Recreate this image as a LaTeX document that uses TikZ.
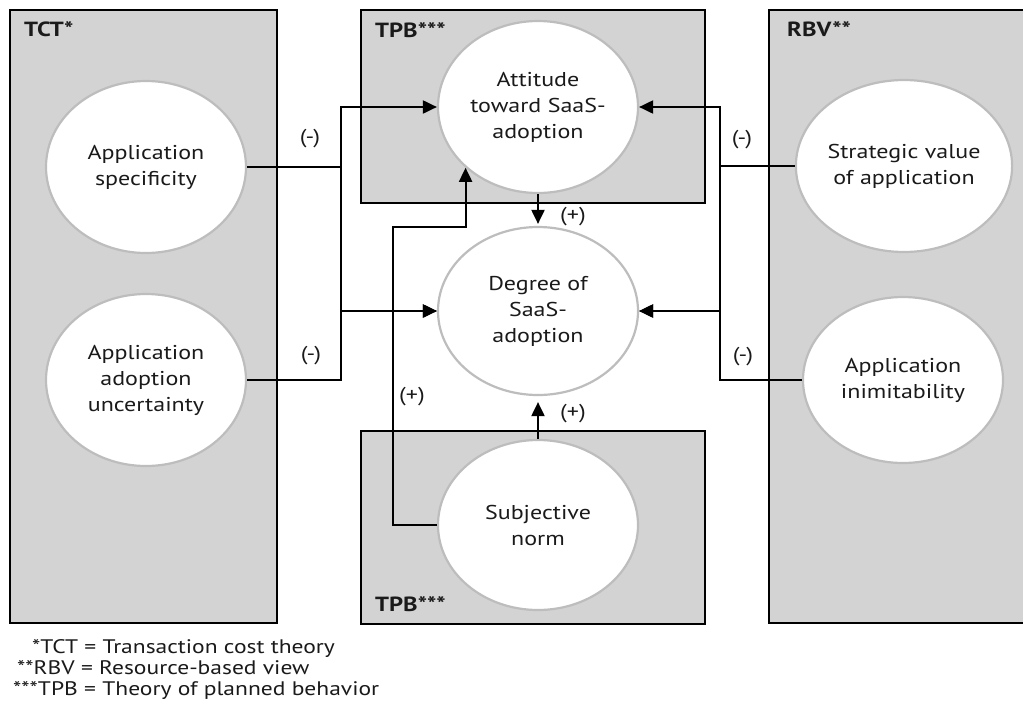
\documentclass[tikz,border=0pt]{standalone}
\usepackage{fontspec}
\setmainfont[FakeStretch=1.2]{PT Sans}
\usetikzlibrary{shapes.geometric,arrows.meta}

\definecolor{panelgray}{HTML}{D3D3D3}
\definecolor{rimgray}{HTML}{BDBDBD}
\definecolor{inkc}{HTML}{1A1A1A}

\tikzset{
  panel/.style={draw=black, line width=2.6pt, fill=panelgray},
  construct/.style={ellipse, draw=rimgray, line width=2.2pt, fill=white,
    minimum width=200pt, minimum height=172pt, inner sep=0pt,
    align=center, text=inkc, font=\fontsize{20}{26}\selectfont},
  paneltitle/.style={anchor=base west, inner sep=0pt, text=inkc,
    font=\fontsize{20.5}{24}\selectfont\bfseries},
  sign/.style={inner sep=0pt, text=inkc, font=\fontsize{20}{24}\selectfont},
  link/.style={line width=2pt, line join=miter},
  arr/.style={link, -{Triangle[length=14pt,width=13pt]}},
  note/.style={anchor=base west, inner sep=0pt, text=inkc,
    font=\fontsize{19.6}{21}\selectfont}
}

\begin{document}
\begin{tikzpicture}[x=1pt, y=-1pt]
  \useasboundingbox (0,0) rectangle (1023,702);
  \clip (0,0) rectangle (1023,702);
  \fill[white] (0,0) rectangle (1023,702);

  % theory panels
  \draw[panel] (10,10) rectangle (277,623);
  \draw[panel] (361,10) rectangle (705,203);
  \draw[panel] (361,431) rectangle (705,624);
  \draw[panel] (769,10) rectangle (1040,623);

  \node[paneltitle] (tctlbl) at (24,36) {TCT*};
  \node[paneltitle] (tpblbl) at (375,37) {TPB***};
  \node[paneltitle] (rbvlbl) at (787,36) {RBV**};
  \node[paneltitle] (tpblbl2) at (375,611) {TPB***};

  % constructs
  \node[construct] (spec) at (146,167) {Application\\specificity};
  \node[construct] (unc)  at (146,380) {Application\\adoption\\uncertainty};
  \node[construct] (att)  at (538,107) {Attitude\\toward SaaS-\\adoption};
  \node[construct, minimum height=168pt] (deg) at (538,311) {Degree of\\SaaS-\\adoption};
  \node[construct, minimum height=170pt] (subj) at (538,525) {Subjective\\norm};
  \node[construct] (strat) at (904,166) {Strategic value\\of application};
  \node[construct, minimum height=166pt] (inim) at (903,380) {Application\\inimitability};

  % routing columns
  \coordinate (colL) at (341,0);
  \coordinate (colR) at (720,0);
  \coordinate (kneeS) at (393,227);

  % TCT effects
  \draw[arr] (spec.east) -- (spec.east -| colL) |- (att.west);
  \draw[arr] (spec.east -| colL) |- (deg.west);
  \draw[arr] (unc.east) -- (unc.east -| colL) |- (deg.west);

  % RBV effects
  \draw[arr] (strat.west) -- (strat.west -| colR) |- (att.east);
  \draw[arr] (strat.west -| colR) |- (deg.east);
  \draw[arr] (inim.west) -- (inim.west -| colR) |- (deg.east);

  % TPB effects
  \draw[arr, shorten >=2pt] (att.south) -- (deg.north);
  \draw[arr, shorten >=6pt] (subj.north) -- (deg.south);
  \draw[arr] (subj.west) -| (kneeS) -| (att.220.5);

  % signs
  \node[sign] (s1) at (310,139) {(-)};
  \node[sign] (s2) at (311,356) {(-)};
  \node[sign] (s3) at (742,140) {(-)};
  \node[sign] (s4) at (743,357) {(-)};
  \node[sign] (s5) at (573,217) {(+)};
  \node[sign] (s6) at (573,414) {(+)};
  \node[sign] (s7) at (412,397) {(+)};

  % legend
  \node[note] (n1) at (32,653) {*TCT = Transaction cost theory};
  \node[note] (n2) at (17,674) {**RBV = Resource-based view};
  \node[note] (n3) at (13,695) {***TPB = Theory of planned behavior};
\end{tikzpicture}
\end{document}
